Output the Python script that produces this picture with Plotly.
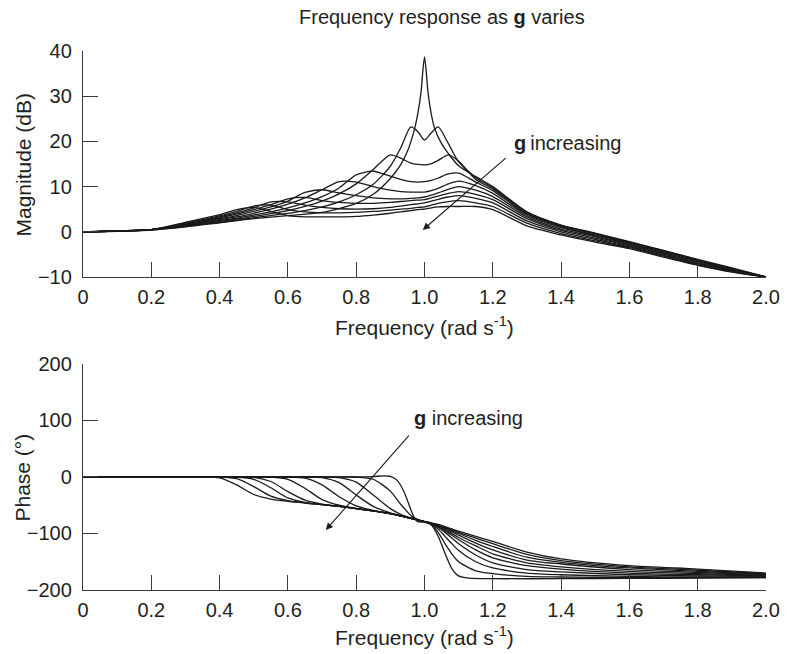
import plotly.graph_objects as go

# ---------------- data ----------------
FREQ_MAG = [0, 0.2, 0.3, 0.4, 0.45, 0.5, 0.55, 0.6, 0.65, 0.7, 0.75, 0.8, 0.85, 0.9, 0.93, 0.96,
            0.98, 1.0, 1.02, 1.04, 1.07, 1.1, 1.15, 1.2, 1.3, 1.4, 1.5, 1.6, 1.7, 1.8, 1.9, 2.0]
FREQ_MAG_SHARP = [0, 0.2, 0.3, 0.4, 0.5, 0.6, 0.7, 0.8, 0.85, 0.9, 0.93, 0.95, 0.97, 0.98, 0.99, 0.995,
                  1.0, 1.005, 1.01, 1.02, 1.03, 1.05, 1.07, 1.1, 1.15, 1.2, 1.3, 1.4, 1.5, 1.6, 1.7, 1.8, 1.9, 2.0]

MAG_0 = [0, 0.4, 1.1, 2.0, 2.9, 3.6, 4.3, 6.3, 8.3, 11.8, 14.8, 17.8, 22.5, 26.0, 31.0, 35.5,
         38.7, 35.5, 31.0, 26.0, 22.8, 19.5, 17.3, 14.6, 12.2, 10.0, 4.4, 1.5, -0.3, -2.2, -4.1, -6.1, -8.0, -10]
MAG_1 = [0, 0.45, 1.2, 2.1, 2.6, 3.1, 3.6, 4.1, 4.7, 5.5, 6.6, 8.2, 10.5, 14.5, 18.5, 23.2,
         22.2, 20.3, 21.9, 23.2, 19.5, 15.5, 12.0, 9.8, 4.3, 1.4, -0.4, -2.3, -4.2, -6.2, -8.1, -10]
MAG_2 = [0, 0.5, 1.3, 2.3, 2.8, 3.4, 4.0, 4.7, 5.6, 6.8, 8.4, 10.6, 13.8, 17.0, 16.3, 15.2,
         14.9, 14.8, 15.1, 15.8, 17.0, 15.6, 11.6, 9.5, 4.1, 1.3, -0.5, -2.4, -4.3, -6.3, -8.2, -10]
MAG_3 = [0, 0.5, 1.4, 2.5, 3.0, 3.7, 4.4, 5.3, 6.4, 7.8, 9.7, 12.6, 13.4, 12.3, 11.6, 11.1,
         11.0, 11.1, 11.4, 11.9, 12.8, 13.0, 11.0, 9.1, 3.9, 1.1, -0.7, -2.5, -4.4, -6.4, -8.3, -10]
MAG_4 = [0, 0.5, 1.5, 2.7, 3.3, 4.1, 5.0, 6.1, 7.5, 9.3, 11.1, 11.0, 10.0, 9.2, 8.9, 8.8,
         8.8, 8.8, 9.1, 9.6, 10.6, 11.2, 10.2, 8.5, 3.6, 0.9, -0.9, -2.7, -4.6, -6.6, -8.4, -10]
MAG_5 = [0, 0.5, 1.6, 2.9, 3.6, 4.5, 5.5, 6.8, 8.7, 9.3, 8.6, 8.0, 7.5, 7.3, 7.3, 7.4,
         7.5, 7.7, 8.1, 8.6, 9.4, 10.0, 9.2, 7.8, 3.3, 0.6, -1.1, -2.9, -4.8, -6.8, -8.5, -10]
MAG_6 = [0, 0.5, 1.7, 3.1, 3.9, 4.9, 6.0, 7.3, 7.6, 6.9, 6.5, 6.3, 6.3, 6.5, 6.7, 6.9,
         7.0, 7.1, 7.5, 7.9, 8.5, 8.9, 8.3, 7.1, 2.9, 0.3, -1.4, -3.1, -5.0, -7.0, -8.6, -10]
MAG_7 = [0, 0.5, 1.8, 3.3, 4.2, 5.3, 6.6, 6.6, 5.9, 5.4, 5.1, 5.0, 5.1, 5.4, 5.7, 6.0,
         6.2, 6.4, 6.8, 7.2, 7.7, 8.0, 7.4, 6.4, 2.4, 0.0, -1.7, -3.3, -5.2, -7.1, -8.7, -10]
MAG_8 = [0, 0.5, 1.9, 3.5, 4.5, 5.7, 5.9, 4.9, 4.4, 4.2, 4.2, 4.3, 4.5, 4.8, 5.0, 5.2,
         5.4, 5.5, 5.9, 6.3, 6.7, 6.9, 6.4, 5.6, 1.9, -0.4, -2.0, -3.5, -5.4, -7.3, -8.8, -10]
MAG_9 = [0, 0.5, 2.1, 3.8, 4.9, 5.4, 4.5, 3.6, 3.3, 3.3, 3.3, 3.4, 3.7, 4.1, 4.4, 4.7,
         4.9, 5.0, 5.3, 5.5, 5.6, 5.6, 5.6, 4.9, 1.3, -0.7, -2.3, -3.7, -5.6, -7.4, -8.9, -10]

FREQ_PH = [0, 0.2, 0.35, 0.4, 0.45, 0.5, 0.55, 0.6, 0.65, 0.7, 0.75, 0.8, 0.85, 0.9, 0.93, 0.96,
           0.98, 1.0, 1.02, 1.04, 1.06, 1.08, 1.1, 1.15, 1.2, 1.3, 1.4, 1.6, 1.8, 2.0]
FREQ_PH_SHARP = [0, 0.2, 0.4, 0.6, 0.8, 0.85, 0.88, 0.9, 0.92, 0.94, 0.96, 0.97, 0.98, 1.0, 1.02,
                 1.04, 1.06, 1.08, 1.1, 1.13, 1.2, 1.4, 1.6, 1.8, 2.0]

PHASE_0 = [0, 0, 0, 0, 0, 0.8, 2, 1.2, -6, -26, -58, -72, -79, -80, -85,
           -105, -135, -162, -175, -179, -180, -180, -179.5, -179, -178]
PHASE_1 = [0, 0, 0, 0, 0, 0, 0, 0, 0, 0, 0, 0, -4, -25, -48, -68, -75, -79,
           -84, -98, -118, -136, -150, -166, -171, -176, -177, -178, -178, -178]
PHASE_2 = [0, 0, 0, 0, 0, 0, 0, 0, 0, 0, -1, -9, -32, -56, -66, -72.5, -76, -79,
           -83, -92, -105, -118, -130, -150, -161, -170, -173, -176, -177, -177]
PHASE_3 = [0, 0, 0, 0, 0, 0, 0, 0, 0, -1, -10, -32, -52, -63.5, -68.5, -73, -76, -79,
           -83, -89, -98, -108, -118, -138, -152, -164, -168, -173, -175, -176]
PHASE_4 = [0, 0, 0, 0, 0, 0, 0, 0, -2, -14, -35, -51, -59, -65, -69, -73, -76, -79,
           -83, -88, -95, -103, -111, -129, -143, -157, -163, -170, -173, -175]
PHASE_5 = [0, 0, 0, 0, 0, 0, 0, -4, -20, -40, -50, -55.5, -60, -65, -69, -73, -76, -79,
           -82, -87, -93, -100, -107, -122, -136, -152, -159, -167, -171, -174]
PHASE_6 = [0, 0, 0, 0, 0, -0.5, -8, -26, -41, -48, -52, -56, -60, -65, -69, -73, -76, -79,
           -82, -86, -91, -97, -103, -117, -129, -147, -154, -164, -169, -173]
PHASE_7 = [0, 0, 0, 0, 0, -4, -19, -37, -45, -49, -52, -56, -60, -65, -69, -73, -76, -79,
           -82, -85, -90, -95, -100, -112, -123, -142, -151, -161, -167, -172]
PHASE_8 = [0, 0, 0, 0, -3, -17, -34, -42, -46, -49, -52, -56, -60, -65, -69, -73, -76, -79,
           -82, -85, -89, -93, -98, -108, -118, -137, -148, -159, -165, -171]
PHASE_9 = [0, 0, 0, -1.5, -14, -31, -39, -43, -46, -49, -52, -56, -60, -65, -69, -73, -76, -79,
           -81, -84, -88, -92, -96, -105, -114, -133, -145, -157, -163, -170]

X_TICKS = [0, 0.2, 0.4, 0.6, 0.8, 1.0, 1.2, 1.4, 1.6, 1.8, 2.0]
X_TICK_TEXT = ["0", "0.2", "0.4", "0.6", "0.8", "1.0", "1.2", "1.4", "1.6", "1.8", "2.0"]
MAG_TICKS = [-10, 0, 10, 20, 30, 40]
PHASE_TICKS = [-200, -100, 0, 100, 200]

# ---------------- figure ----------------
FONT = "Liberation Sans, Arial, sans-serif"
INK = "#231f20"
AXC = "#3a3a3a"
FS = 20

fig = go.Figure()

line_style = dict(color="#1a1a1a", width=1.3, shape="spline", smoothing=0.7)

fig.add_trace(go.Scatter(x=FREQ_MAG_SHARP, y=MAG_0, mode="lines", line=line_style,
                         xaxis="x", yaxis="y", showlegend=False, hoverinfo="skip"))
for mag in [MAG_1, MAG_2, MAG_3, MAG_4, MAG_5, MAG_6, MAG_7, MAG_8, MAG_9]:
    fig.add_trace(go.Scatter(x=FREQ_MAG, y=mag, mode="lines", line=line_style,
                             xaxis="x", yaxis="y", showlegend=False, hoverinfo="skip"))

fig.add_trace(go.Scatter(x=FREQ_PH_SHARP, y=PHASE_0, mode="lines", line=line_style,
                         xaxis="x2", yaxis="y2", showlegend=False, hoverinfo="skip"))
for ph in [PHASE_1, PHASE_2, PHASE_3, PHASE_4, PHASE_5, PHASE_6, PHASE_7, PHASE_8, PHASE_9]:
    fig.add_trace(go.Scatter(x=FREQ_PH, y=ph, mode="lines", line=line_style,
                             xaxis="x2", yaxis="y2", showlegend=False, hoverinfo="skip"))

axis_common = dict(showgrid=False, zeroline=False, showline=True, linecolor=AXC, linewidth=1.3,
                   ticks="inside", ticklen=15, tickwidth=1.3, tickcolor=AXC,
                   tickfont=dict(family=FONT, size=FS, color=INK), mirror=False)

fig.update_layout(
    width=792, height=654,
    margin=dict(l=83, r=20, t=51, b=64),
    paper_bgcolor="white", plot_bgcolor="white",
    font=dict(family=FONT, color=INK, size=FS),
    showlegend=False,
    xaxis=dict(domain=[0, 1], anchor="y", range=[0, 2.0], tickvals=X_TICKS, ticktext=X_TICK_TEXT,
               ticklabelstandoff=2, **axis_common),
    yaxis=dict(domain=[0.5807, 1.0], anchor="x", range=[-10, 40], tickvals=MAG_TICKS,
               ticklabelstandoff=6, **axis_common),
    xaxis2=dict(domain=[0, 1], anchor="y2", range=[0, 2.0], tickvals=X_TICKS, ticktext=X_TICK_TEXT,
                ticklabelstandoff=2, **axis_common),
    yaxis2=dict(domain=[0, 0.4193], anchor="x2", range=[-200, 200], tickvals=PHASE_TICKS,
                ticklabelstandoff=6, **axis_common),
)

ann = []
# title
ann.append(dict(text="Frequency response as <b>g</b> varies", xref="paper", yref="paper",
                x=(445 - 83) / 689, y=(590 - 17) / 539, xanchor="center", yanchor="middle",
                showarrow=False, font=dict(family=FONT, size=FS, color=INK)))
# axis titles
ann.append(dict(text="Magnitude (dB)", xref="paper", yref="paper", x=(22 - 83) / 689,
                y=(590 - 165) / 539, textangle=-90, xanchor="center", yanchor="middle",
                showarrow=False, font=dict(family=FONT, size=21, color=INK)))
ann.append(dict(text="Phase (°)", xref="paper", yref="paper", x=(22 - 83) / 689,
                y=(590 - 478) / 539, textangle=-90, xanchor="center", yanchor="middle",
                showarrow=False, font=dict(family=FONT, size=21, color=INK)))
ann.append(dict(text="Frequency (rad s<sup>-1</sup>)", xref="paper", yref="paper", x=(428 - 83) / 689,
                y=(590 - 326) / 539, xanchor="center", yanchor="middle",
                showarrow=False, font=dict(family=FONT, size=21, color=INK)))
ann.append(dict(text="Frequency (rad s<sup>-1</sup>)", xref="paper", yref="paper", x=(428 - 83) / 689,
                y=(590 - 636) / 539, xanchor="center", yanchor="middle",
                showarrow=False, font=dict(family=FONT, size=21, color=INK)))
# "g increasing" annotations
ann.append(dict(text="<b>g</b>\u2009increasing", xref="x", yref="y", x=1.255, y=19.7,
                xanchor="left", yanchor="middle", showarrow=False,
                font=dict(family=FONT, size=FS, color=INK)))
ann.append(dict(text="", xref="x", yref="y", x=0.995, y=0.4, axref="x", ayref="y",
                ax=1.242, ay=16.6, showarrow=True, arrowhead=2, arrowsize=1.3,
                arrowwidth=1.1, arrowcolor="#1a1a1a"))
ann.append(dict(text="<b>g</b> increasing", xref="x2", yref="y2", x=0.963, y=105,
                xanchor="left", yanchor="middle", showarrow=False,
                font=dict(family=FONT, size=FS, color=INK)))
ann.append(dict(text="", xref="x2", yref="y2", x=0.711, y=-94, axref="x2", ayref="y2",
                ax=0.958, ay=76, showarrow=True, arrowhead=2, arrowsize=1.3,
                arrowwidth=1.1, arrowcolor="#1a1a1a"))
fig.update_layout(annotations=ann)

fig.write_html("out.html")
